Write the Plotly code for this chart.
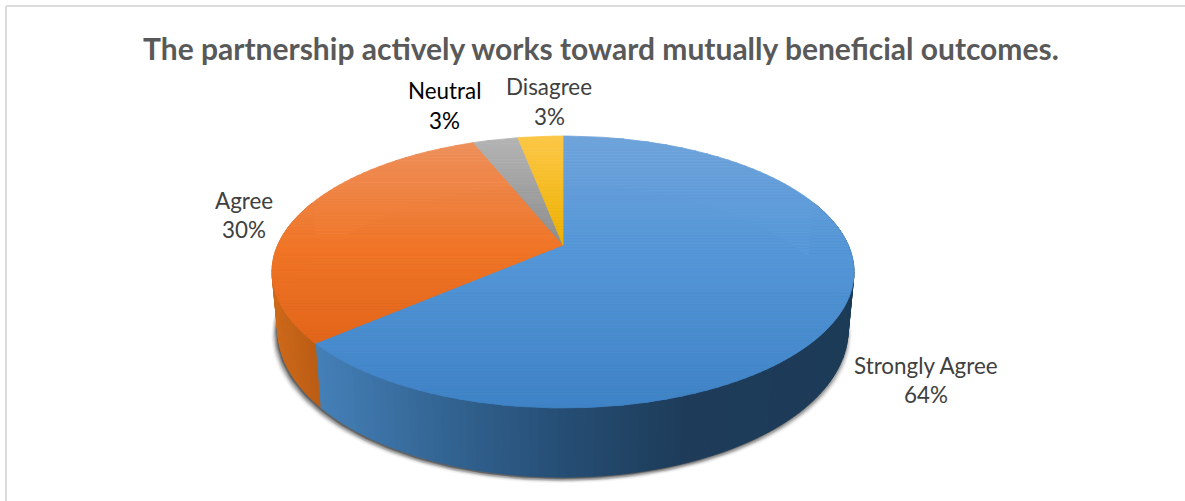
import math
import plotly.graph_objects as go

title = "The partnership actively works toward mutually beneficial outcomes."
categories = ["Strongly Agree", "Agree", "Neutral", "Disagree"]
responses = [21, 10, 1, 1]

# appearance
top_stops = [
    [(136, "#6fa3da"), (250, "#5597d8"), (408, "#3f83c7")],
    [(145, "#ee8f5a"), (250, "#f07526"), (345, "#e2651a")],
    [(140, "#b3b3b3"), (245, "#8e8e8e")],
    [(136, "#fcc748"), (245, "#eeb200")],
]
wall_stops = [
    [(318, "#4480b8"), (440, "#336594"), (560, "#264e75"), (680, "#1e3c5a"), (860, "#1c3b57")],
    [(272, "#cf6a1a"), (325, "#b85a13")],
]
label_pos = [(926, 365, 394, "#404040"), (244, 200, 229, "#404040"),
             (444, 90, 120, "#000000"), (549, 86, 116, "#404040")]

# perspective projection of the pie disc onto the page
CX, APEX_Y, A, B, K = 563.0, 245.0, 285.2, 130.6, 0.1985
WALL, BOTTOM_SCALE = 55.5, 0.98


def top_pt(t):
    u, v = math.sin(t), math.cos(t)
    w = 1 + K * v
    return (CX + A * u / w, APEX_Y - B * v / w)


def low_pt(t):
    u, v = math.sin(t), math.cos(t)
    w = 1 + K * v
    return (CX + BOTTOM_SCALE * A * u / w, APEX_Y - B * v / w + WALL / w)


def hex2rgb(h):
    return tuple(int(h[i:i + 2], 16) for i in (1, 3, 5))


def ramp(stops, p):
    if p <= stops[0][0]:
        return stops[0][1]
    for (a, ca), (b, cb) in zip(stops, stops[1:]):
        if p <= b:
            f = (p - a) / (b - a)
            ra, rb = hex2rgb(ca), hex2rgb(cb)
            return "rgb(%d,%d,%d)" % tuple(round(x + (y - x) * f) for x, y in zip(ra, rb))
    return stops[-1][1]


def clip(poly, yv, keep_below):
    out = []
    inside = (lambda p: p[1] >= yv) if keep_below else (lambda p: p[1] <= yv)
    for i, p in enumerate(poly):
        q = poly[(i + 1) % len(poly)]
        if inside(p):
            out.append(p)
        if inside(p) != inside(q):
            f = (yv - p[1]) / (q[1] - p[1])
            out.append((p[0] + (q[0] - p[0]) * f, yv))
    return out


def add_poly(fig, pts, color, edge=True):
    xs = [p[0] for p in pts] + [pts[0][0]]
    ys = [p[1] for p in pts] + [pts[0][1]]
    fig.add_trace(go.Scatter(
        x=xs, y=ys, mode="lines", fill="toself", fillcolor=color,
        line=dict(color=color, width=0.8 if edge else 0), hoverinfo="skip", showlegend=False))


fig = go.Figure()

# soft shadow under the pie
ring = [i * 2 * math.pi / 240 for i in range(240)]
for grow, dy, alpha in [(5, 5, .05), (4, 4, .08), (3, 3.5, .12), (2, 3, .18), (1, 2, .25), (0, 1.5, .35)]:
    pts = []
    for t in ring:
        x, y = low_pt(t)
        sx = (x - CX) * (1 + grow / 285) + CX - 1.5
        pts.append((sx, y + dy + grow * 0.2))
    add_poly(fig, pts, f"rgba(30,30,30,{alpha})", edge=False)

# slice angles, clockwise from twelve o'clock
total = sum(responses)
edges = [0.0]
for p in responses:
    edges.append(edges[-1] + p / total * 2 * math.pi)

# outer walls: slices 0 and 1 are the ones facing the viewer
wall_from, wall_to = math.radians(70), math.radians(290)
for s in (0, 1):
    a0, a1 = max(edges[s], wall_from), min(edges[s + 1], wall_to)
    n = max(2, int((a1 - a0) / math.radians(1.5)))
    for i in range(n):
        t0 = a0 + (a1 - a0) * i / n
        t1 = a0 + (a1 - a0) * (i + 1) / n
        poly = [top_pt(t0), top_pt(t1), low_pt(t1), low_pt(t0)]
        mx = sum(p[0] for p in poly) / 4
        add_poly(fig, poly, ramp(wall_stops[s], mx))

# top face: each slice cut into horizontal gradient bands
for s in range(len(responses)):
    a0, a1 = edges[s], edges[s + 1]
    n = max(8, int((a1 - a0) / math.radians(1)))
    slice_poly = [(CX, APEX_Y)] + [top_pt(a0 + (a1 - a0) * i / n) for i in range(n + 1)]
    ymin = min(p[1] for p in slice_poly)
    ymax = max(p[1] for p in slice_poly)
    bands = max(4, int((ymax - ymin) / 3))
    for b in range(bands):
        y0 = ymin + (ymax - ymin) * b / bands
        y1 = ymin + (ymax - ymin) * (b + 1) / bands
        part = clip(clip(slice_poly, y0, True), y1, False)
        if len(part) >= 3:
            add_poly(fig, part, ramp(top_stops[s], (y0 + y1) / 2))

# labels
annotations = [dict(x=600.5, y=47.5, xref="x", yref="y", text=f"<b>{title}</b>", showarrow=False,
                    font=dict(family="Lato", size=30, color="#595959"))]
for name, p, (x, y1, y2, col) in zip(categories, responses, label_pos):
    pct = round(p / total * 100)
    annotations.append(dict(x=x, y=y1, xref="x", yref="y", text=name, showarrow=False,
                            font=dict(family="Lato", size=22.4, color=col)))
    annotations.append(dict(x=x, y=y2, xref="x", yref="y", text=f"{pct}%", showarrow=False,
                            font=dict(family="Lato", size=22.4, color=col)))

fig.update_layout(
    width=1185, height=501, margin=dict(l=0, r=0, t=0, b=0),
    paper_bgcolor="white", plot_bgcolor="white", showlegend=False,
    xaxis=dict(range=[0, 1185], visible=False, fixedrange=True),
    yaxis=dict(range=[501, 0], visible=False, fixedrange=True),
    annotations=annotations,
    shapes=[
        dict(type="line", x0=6, x1=6, y0=6, y1=501, line=dict(color="#dcdcdc", width=2)),
        dict(type="line", x0=6, x1=1185, y0=6, y1=6, line=dict(color="#dcdcdc", width=2)),
    ],
)

fig.write_html("out.html", config={"displayModeBar": False},
               post_script="document.body.style.margin='0';document.body.style.overflow='hidden';")
